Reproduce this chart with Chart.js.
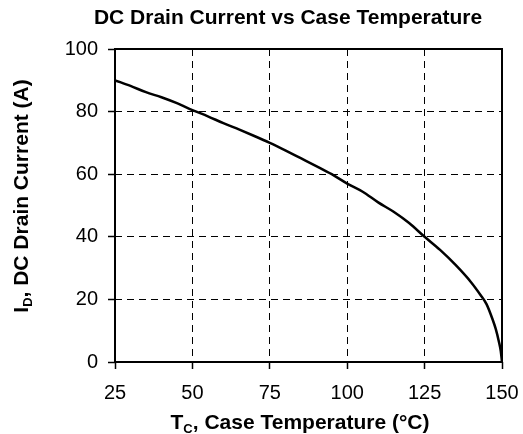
<!DOCTYPE html>
<html>
<head>
<meta charset="utf-8">
<script src="https://cdn.jsdelivr.net/npm/chart.js@4"></script>
<style>
  html, body { margin: 0; padding: 0; background: #fff; }
  #wrap { width: 523px; height: 434px; }
</style>
</head>
<body>
<div id="wrap"><canvas id="chart"></canvas></div>
<script>
// Case temperature (°C) and the derated drain current (A)
const caseTemps = [25, 30, 35, 40, 45, 50, 55, 60, 65, 70, 75, 80, 85, 90, 95, 100,
    105, 110, 115, 120, 125, 130, 135, 140, 143, 145, 147, 148, 149, 149.6, 150];
const drainCurrent = [90, 88.2, 86.2, 84.6, 82.7, 80.5, 78.5, 76.3, 74.3, 72.2, 70, 67.6,
    65.1, 62.6, 60, 57, 54.4, 51, 48, 44.4, 40, 35.8, 31, 25.5, 21.5, 18.5, 13.5, 10.5, 6.5, 3.5, 0];

const xTicks = [25, 50, 75, 100, 125, 150];
const yTicks = [0, 20, 40, 60, 80, 100];

const chartTitle = 'DC Drain Current vs Case Temperature';
const xTitle = ['T', 'C', ', Case Temperature (°C)'];
const yTitle = ['I', 'D', ', DC Drain Current (A)'];

const FONT = '"Liberation Sans", Arial, Helvetica, sans-serif';

// draws text with a subscript part: [main, sub, rest]
function drawSubText(ctx, parts, size) {
    const big = 'bold ' + size + 'px ' + FONT;
    const small = 'bold ' + Math.round(size * 0.62) + 'px ' + FONT;
    ctx.font = big;
    const w1 = ctx.measureText(parts[0]).width;
    const w3 = ctx.measureText(parts[2]).width;
    ctx.font = small;
    const w2 = ctx.measureText(parts[1]).width;
    let x = -(w1 + w2 + w3) / 2;
    ctx.textAlign = 'left';
    ctx.textBaseline = 'alphabetic';
    ctx.font = big;
    ctx.fillText(parts[0], x, 0);
    x += w1;
    ctx.font = small;
    ctx.fillText(parts[1], x, size * 0.18);
    x += w2;
    ctx.font = big;
    ctx.fillText(parts[2], x, 0);
}

const titlesPlugin = {
    id: 'titles',
    afterDraw(chart) {
        const ctx = chart.ctx;
        const area = chart.chartArea;
        ctx.save();
        ctx.fillStyle = '#000';

        // plot frame
        ctx.strokeStyle = '#000';
        ctx.lineWidth = 2;
        ctx.setLineDash([]);
        ctx.strokeRect(area.left, area.top, area.right - area.left, area.bottom - area.top);

        // chart title
        ctx.font = 'bold 21px ' + FONT;
        ctx.textAlign = 'center';
        ctx.textBaseline = 'middle';
        ctx.fillText(chartTitle, 288, 18);

        // x axis title
        ctx.save();
        ctx.translate(300, 429);
        drawSubText(ctx, xTitle, 21);
        ctx.restore();

        // y axis title
        ctx.save();
        ctx.translate(28, 196);
        ctx.rotate(-Math.PI / 2);
        drawSubText(ctx, yTitle, 21);
        ctx.restore();

        ctx.restore();
    }
};

const gridStyle = {
    color: '#000',
    lineWidth: 1,
    tickLength: 7,
    tickColor: '#000',
    tickWidth: 1.5,
    tickBorderDash: []
};

new Chart(document.getElementById('chart'), {
    type: 'line',
    data: {
        datasets: [{
            data: caseTemps.map((t, i) => ({ x: t, y: drainCurrent[i] })),
            borderColor: '#000',
            borderWidth: 2.5,
            pointRadius: 0,
            fill: false,
            cubicInterpolationMode: 'monotone'
        }]
    },
    options: {
        responsive: true,
        maintainAspectRatio: false,
        animation: false,
        layout: {
            padding: { top: 49, right: 21, bottom: 0, left: 0 }
        },
        plugins: {
            legend: { display: false },
            title: { display: false },
            tooltip: { enabled: false }
        },
        scales: {
            x: {
                type: 'linear',
                min: 25,
                max: 150,
                afterBuildTicks: axis => { axis.ticks = xTicks.map(v => ({ value: v })); },
                afterFit: axis => {
                    axis.height = 72;
                    axis.paddingLeft = 0;
                    axis.paddingRight = 0;
                },
                ticks: {
                    color: '#000',
                    font: { family: FONT, size: 20 },
                    padding: 12,
                    maxRotation: 0
                },
                grid: gridStyle,
                border: { display: false, dash: [7, 5] }
            },
            y: {
                min: 0,
                max: 100,
                afterBuildTicks: axis => { axis.ticks = yTicks.map(v => ({ value: v })); },
                afterFit: axis => {
                    axis.width = 115;
                    axis.paddingTop = 0;
                    axis.paddingBottom = 0;
                },
                ticks: {
                    color: '#000',
                    font: { family: FONT, size: 20 },
                    padding: 10
                },
                grid: gridStyle,
                border: { display: false, dash: [7, 5] }
            }
        }
    },
    plugins: [titlesPlugin]
});
</script>
</body>
</html>
